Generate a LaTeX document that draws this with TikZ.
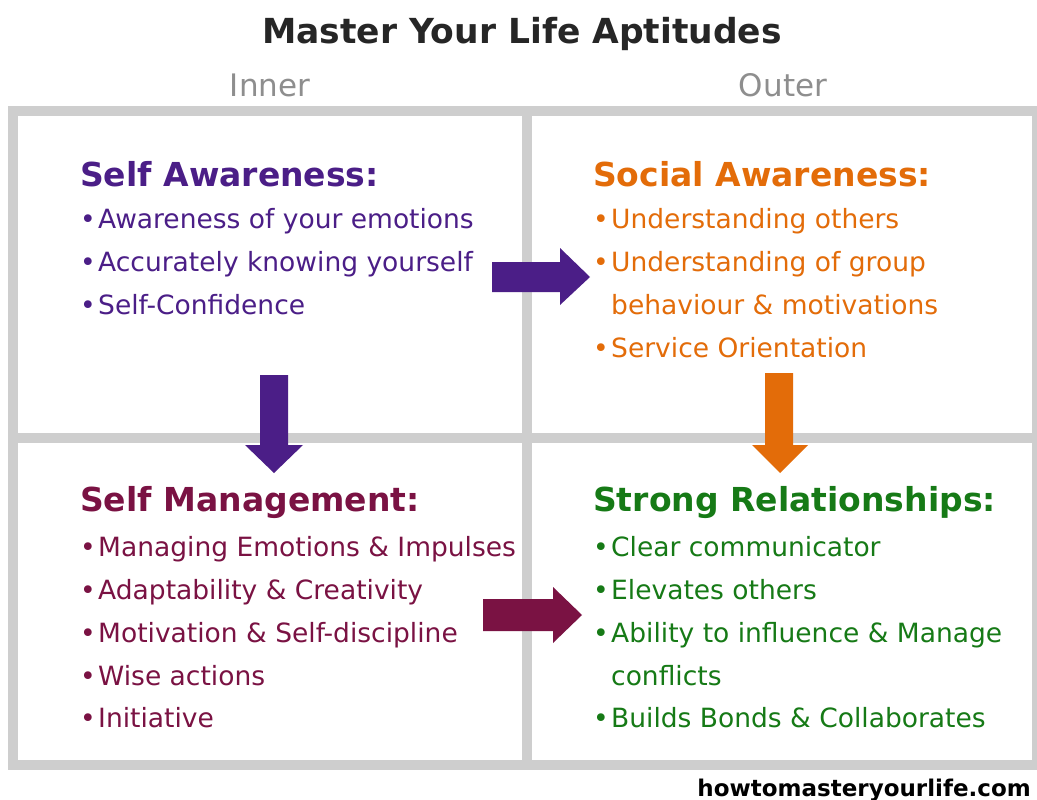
\documentclass[tikz,border=0pt]{standalone}
\usepackage{fontspec}
\setmainfont{DejaVu Sans}
\definecolor{gridgray}{HTML}{CECECE}
\definecolor{labgray}{HTML}{8E8E8E}
\definecolor{titledark}{HTML}{262626}
\definecolor{cpurple}{HTML}{4B1E87}
\definecolor{corange}{HTML}{E36C09}
\definecolor{cmaroon}{HTML}{7A1243}
\definecolor{cgreen}{HTML}{167A16}
\newcommand{\bul}{\makebox[18pt][l]{•}}
\tikzset{
  heading/.style={anchor=base west, inner sep=0pt, font=\fontsize{33}{36}\selectfont\bfseries},
  item/.style={anchor=base west, inner sep=0pt, font=\fontsize{26.5}{30}\selectfont},
  gridline/.style={draw=gridgray, line width=9.5pt}
}
\begin{document}
\begin{tikzpicture}[x=1pt,y=-1pt]
\useasboundingbox (0,0) rectangle (1037,800);
\fill[white] (0,0) rectangle (1037,800);
% grid
\draw[gridline] (13,111) rectangle (1037,765);
\draw[gridline] (527,111) -- (527,765);
\draw[gridline] (13,438) -- (1037,438);
% header
\node[anchor=base, inner sep=0pt, text=titledark, font=\fontsize{34.5}{38}\selectfont\bfseries] (title) at (522,44) {Master Your Life Aptitudes};
\node[anchor=base, inner sep=0pt, text=labgray, font=\fontsize{31}{34}\selectfont] (inner) at (270,97) {Inner};
\node[anchor=base, inner sep=0pt, text=labgray, font=\fontsize{31}{34}\selectfont] (outer) at (783,97) {Outer};
% Self Awareness
\begin{scope}[text=cpurple]
\node[heading] (sah) at (80,186) {Self Awareness:};
\node[item] (sa1) at (80,228) {\bul Awareness of your emotions};
\node[item] (sa2) at (80,271) {\bul Accurately knowing yourself};
\node[item] (sa3) at (80,314) {\bul Self-Confidence};
\end{scope}
% Social Awareness
\begin{scope}[text=corange]
\node[heading] (soh) at (593,186) {Social Awareness:};
\node[item] (so1) at (593,228) {\bul Understanding others};
\node[item] (so2) at (593,271) {\bul Understanding of group};
\node[item] (so2b) at (611,314) {behaviour \& motivations};
\node[item] (so3) at (593,357) {\bul Service Orientation};
\end{scope}
% Self Management
\begin{scope}[text=cmaroon]
\node[heading] (smh) at (80,511) {Self Management:};
\node[item] (sm1) at (80,556) {\bul Managing Emotions \& Impulses};
\node[item] (sm2) at (80,599) {\bul Adaptability \& Creativity};
\node[item] (sm3) at (80,642) {\bul Motivation \& Self-discipline};
\node[item] (sm4) at (80,685) {\bul Wise actions};
\node[item] (sm5) at (80,727) {\bul Initiative};
\end{scope}
% Strong Relationships
\begin{scope}[text=cgreen]
\node[heading] (srh) at (593,511) {Strong Relationships:};
\node[item] (sr1) at (593,556) {\bul Clear communicator};
\node[item] (sr2) at (593,599) {\bul Elevates others};
\node[item] (sr3) at (593,642) {\bul Ability to influence \& Manage};
\node[item] (sr3b) at (611,685) {conflicts};
\node[item] (sr4) at (593,727) {\bul Builds Bonds \& Collaborates};
\end{scope}
% arrows
\fill[cpurple] (492,262) -- (560,262) -- (560,248) -- (590,277) -- (560,305) -- (560,292) -- (492,292) -- cycle;
\fill[cpurple] (260,375) -- (288,375) -- (288,445) -- (303,445) -- (274,473) -- (245,445) -- (260,445) -- cycle;
\fill[corange] (765,373) -- (793,373) -- (793,445) -- (808,445) -- (780,473) -- (752,445) -- (765,445) -- cycle;
\fill[cmaroon] (483,599) -- (553,599) -- (553,587) -- (582,615) -- (553,643) -- (553,631) -- (483,631) -- cycle;
% footer
\node[anchor=base east, inner sep=0pt, text=black, font=\fontsize{23}{27}\selectfont\bfseries] (footer) at (1031,796) {howtomasteryourlife.com};
\end{tikzpicture}
\end{document}
